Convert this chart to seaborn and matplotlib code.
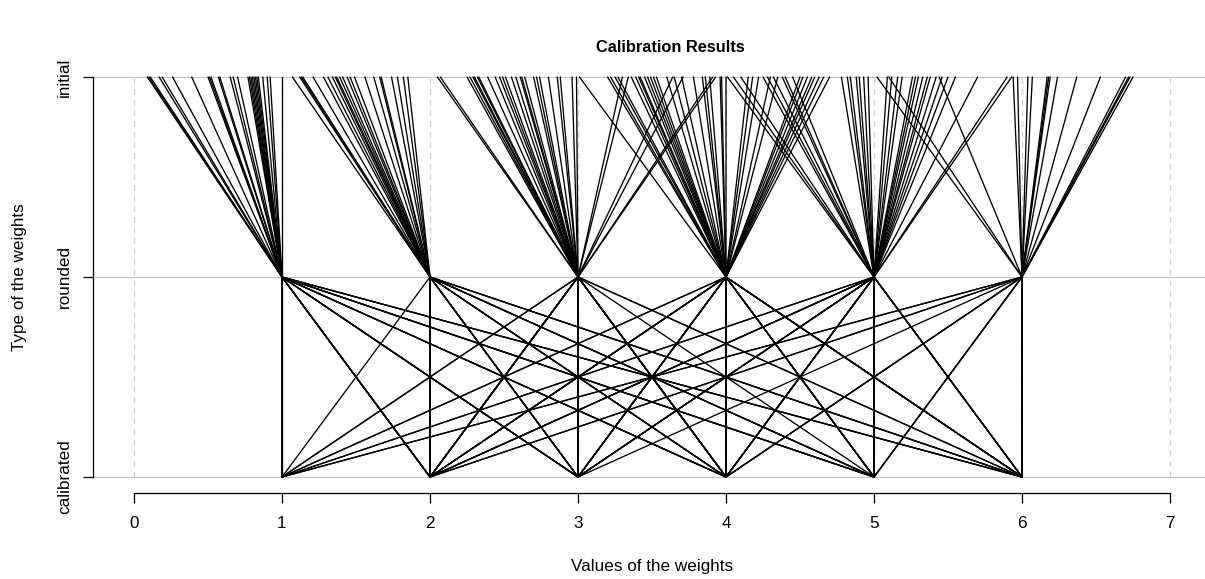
import matplotlib
matplotlib.use("Agg")
import matplotlib.pyplot as plt
import seaborn as sns
import pandas as pd

# ---- data: initial (continuous) weights grouped by rounded value, with calibrated values ----
init_r1 = [0.09, 0.10, 0.11, 0.17, 0.19, 0.26, 0.39, 0.50, 0.51, 0.52, 0.57, 0.58, 0.65, 0.67,
           0.70, 0.77, 0.78, 0.79, 0.80, 0.81, 0.82, 0.83, 0.84, 0.87, 0.90, 0.92, 1.00]
cal_r1 = [1, 2, 3, 4, 5, 6, 1, 2, 3, 4, 5, 6, 2, 3, 1, 2, 4, 5, 6, 2, 3, 1, 4, 5, 2, 3, 1]

init_r2 = [1.07, 1.12, 1.13, 1.14, 1.21, 1.28, 1.31, 1.34, 1.36, 1.37, 1.39, 1.41, 1.44, 1.46,
           1.49, 1.56, 1.62, 1.66, 1.67, 1.74, 1.78, 1.82, 1.85]
cal_r2 = [2, 3, 4, 5, 6, 2, 3, 4, 5, 1, 2, 3, 6, 2, 4, 5, 3, 2, 6, 3, 2, 4, 5]

init_r3 = [2.05, 2.07, 2.25, 2.27, 2.29, 2.30, 2.32, 2.33, 2.39, 2.44, 2.47, 2.49, 2.51, 2.55,
           2.58, 2.61, 2.62, 2.64, 2.70, 2.72, 2.74, 2.80, 2.86, 2.88, 2.96, 2.99, 3.30, 3.34,
           3.64, 3.71, 3.91, 3.93]
cal_r3 = [3, 4, 2, 3, 4, 1, 3, 2, 4, 3, 6, 2, 3, 4, 5, 3, 2, 4, 3, 1, 2, 3, 4, 6, 3, 2, 4, 3,
          2, 3, 4, 3]

init_r4 = [3.01, 3.20, 3.22, 3.25, 3.27, 3.36, 3.39, 3.41, 3.42, 3.45, 3.47, 3.49, 3.51, 3.53,
           3.60, 3.65, 3.70, 3.78, 3.84, 3.86, 3.89, 3.96, 3.97, 4.00, 4.15, 4.18, 4.22, 4.30,
           4.35, 4.50, 4.52, 4.55, 4.58, 4.60, 4.63, 4.66, 4.70]
cal_r4 = [4, 1, 2, 3, 4, 5, 6, 4, 2, 3, 4, 5, 6, 4, 1, 2, 3, 4, 5, 6, 4, 3, 4, 5, 6, 4, 2, 3,
          4, 5, 6, 4, 2, 3, 4, 5, 6]

init_r5 = [4.01, 4.05, 4.10, 4.25, 4.28, 4.32, 4.38, 4.40, 4.45, 4.78, 4.82, 4.84, 4.88, 4.90,
           4.93, 4.96, 5.09, 5.12, 5.16, 5.19, 5.26, 5.28, 5.30, 5.33, 5.36, 5.38, 5.42, 5.46,
           5.50, 5.55, 5.70, 5.90, 5.93]
cal_r5 = [5, 1, 2, 3, 4, 5, 6, 5, 4, 3, 5, 2, 6, 4, 5, 1, 3, 5, 4, 6, 5, 2, 4, 3, 5, 6, 5, 4,
          2, 3, 5, 6, 5]

init_r6 = [5.02, 5.10, 5.44, 5.94, 5.97, 6.04, 6.07, 6.17, 6.18, 6.19, 6.24, 6.37, 6.53, 6.70,
           6.72, 6.73, 6.75]
cal_r6 = [6, 1, 2, 3, 4, 5, 6, 1, 2, 4, 5, 6, 4, 5, 6, 6, 6]

rounded_values = [1, 2, 3, 4, 5, 6]
type_labels = ["calibrated", "rounded", "initial"]
x_ticks = [0, 1, 2, 3, 4, 5, 6, 7]

groups = [(init_r1, cal_r1), (init_r2, cal_r2), (init_r3, cal_r3),
          (init_r4, cal_r4), (init_r5, cal_r5), (init_r6, cal_r6)]

rows = []
uid = 0
for rv, (inits, cals) in zip(rounded_values, groups):
    for iv, cv in zip(inits, cals):
        rows.append({"unit": uid, "value": iv, "level": 2})
        rows.append({"unit": uid, "value": rv, "level": 1})
        rows.append({"unit": uid, "value": cv, "level": 0})
        uid += 1
df = pd.DataFrame(rows)

# ---- style ----
sns.set_style("white")
plt.rcParams["font.family"] = ["Liberation Sans", "DejaVu Sans"]
plt.rcParams["text.color"] = "black"
plt.rcParams["xtick.color"] = "black"
plt.rcParams["ytick.color"] = "black"
plt.rcParams["xtick.labelcolor"] = "black"
plt.rcParams["ytick.labelcolor"] = "black"

W, H = 1205, 579
fig = plt.figure(figsize=(W / 100, H / 100), dpi=100)
left, right, top, bottom = 93, 1205, 61, 493
ax = fig.add_axes([left / W, (H - bottom) / H, (right - left) / W, (bottom - top) / H])

x0_px, unit_px = 134, 148
ax.set_xlim((left - x0_px) / unit_px, (right - x0_px) / unit_px)
ax.set_ylim(-0.08, 2.08)

# grid
for lv in range(3):
    ax.axhline(lv, color="#c4c4c4", lw=0.9, zorder=1)
ax.vlines(x_ticks, 0, 2, colors="#cfcfcf", lw=0.9, linestyles=(0, (4.5, 4)), zorder=1)

sns.lineplot(data=df, x="value", y="level", units="unit", estimator=None, sort=False,
             color="black", lw=0.95, ax=ax, zorder=3, legend=False)

# axes in R style
for s in ["top", "right"]:
    ax.spines[s].set_visible(False)
ax.spines["left"].set_bounds(0, 2)
ax.spines["bottom"].set_bounds(0, 7)
for s in ["left", "bottom"]:
    ax.spines[s].set_color("black")
    ax.spines[s].set_linewidth(0.9)

ax.set_xticks(x_ticks)
ax.set_xticklabels([str(t) for t in x_ticks], fontsize=12.3, color="black")
ax.set_yticks([0, 1, 2])
ax.set_yticklabels(type_labels, rotation=90, va="center", fontsize=12.3, color="black")
ax.tick_params(axis="both", which="major", bottom=True, left=True, direction="out",
               length=7.2, width=0.9, color="black")
ax.tick_params(axis="x", pad=9)
ax.tick_params(axis="y", pad=8)
ax.set_xlabel("")
ax.set_ylabel("")

fig.text(670 / W, 1 - 47 / H, "Calibration Results", ha="center", va="center",
         fontsize=11.8, fontweight="bold", color="black")
fig.text(652 / W, 1 - 566 / H, "Values of the weights", ha="center", va="center",
         fontsize=12.3, color="black")
fig.text(20 / W, 1 - 277 / H, "Type of the weights", ha="center", va="center",
         rotation=90, fontsize=12.3, color="black")

fig.savefig("out.png", dpi=100)
